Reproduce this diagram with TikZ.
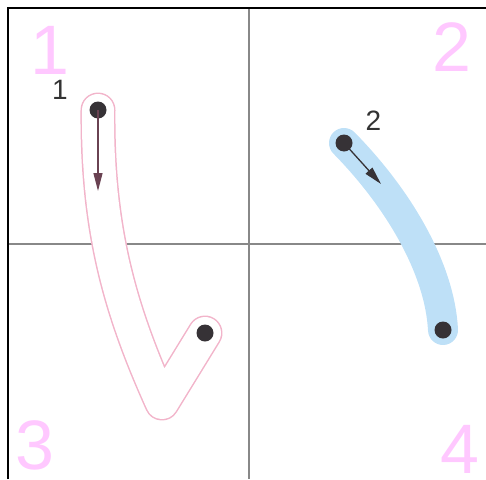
\documentclass[tikz,border=0pt]{standalone}
\usepackage{fontspec}
\setmainfont{Liberation Sans}
\usetikzlibrary{arrows.meta}
\definecolor{bignum}{HTML}{FFC8FF}
\definecolor{pinkline}{HTML}{F2B4CA}
\definecolor{bluestroke}{HTML}{BEE0F7}
\definecolor{dotcol}{HTML}{363236}
\definecolor{arrowone}{HTML}{6A4252}
\definecolor{gridgrey}{HTML}{888888}
\tikzset{
  bignumber/.style={inner sep=0pt, text=bignum, font=\fontsize{70}{70}\selectfont},
  smalllabel/.style={inner sep=0pt, text=black!80, font=\fontsize{28}{28}\selectfont},
  dotnode/.style={circle, fill=dotcol, inner sep=0pt, minimum size=17pt},
  gridline/.style={gridgrey, line width=2pt},
  borderline/.style={black, line width=2pt},
  dirarrow/.style={line width=1.3pt, -{Triangle[length=18pt,width=9pt]}},
}
\begin{document}
\begin{tikzpicture}[x=1pt,y=-1pt]
\useasboundingbox (0,0) rectangle (486,479);
% grid
\draw[gridline] (249,8) -- (249,479);
\draw[gridline] (8,244) -- (486,244);
\draw[borderline] (8,479) -- (8,8) -- (486,8);
% big quadrant numbers
\node[bignumber] (q1) at (50,50) {1};
\node[bignumber] (q2) at (452,47.5) {2};
\node[bignumber] (q3) at (35,445) {3};
\node[bignumber] (q4) at (460,449) {4};
% stroke 1 (outlined)
\coordinate (s1a) at (98,110);
\coordinate (s1v) at (162,403);
\coordinate (s1b) at (205,333);
\draw[pinkline, line width=35pt, line cap=round, line join=round]
  (s1a) .. controls (97,230) and (120,310) .. (s1v) -- (s1b);
\draw[white, line width=32pt, line cap=round, line join=round]
  (s1a) .. controls (97,230) and (120,310) .. (s1v) -- (s1b);
% stroke 2 (filled blue)
\coordinate (s2a) at (344,143);
\coordinate (s2b) at (443,330);
\draw[bluestroke, line width=30pt, line cap=round]
  (s2a) .. controls (400,200) and (440,270) .. (s2b);
% dots
\node[dotnode] (d1a) at (s1a) {};
\node[dotnode] (d1b) at (s1b) {};
\node[dotnode] (d2a) at (s2a) {};
\node[dotnode] (d2b) at (s2b) {};
% direction arrows
\coordinate (a1) at (98,191);
\coordinate (a2) at (381,184);
\draw[dirarrow, arrowone] (d1a.center) -- (a1);
\draw[dirarrow, dotcol] (d2a.center) -- (a2);
% stroke labels
\node[smalllabel] (l1) at (60,90) {1};
\node[smalllabel] (l2) at (373.5,121) {2};
\end{tikzpicture}
\end{document}
